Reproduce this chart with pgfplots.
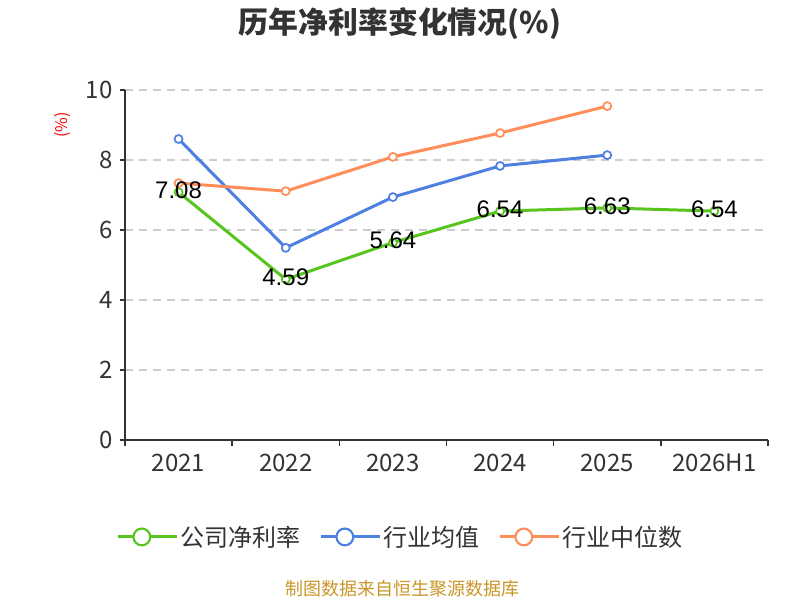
\documentclass[border=0pt]{standalone}
\usepackage{pgfplots}
\pgfplotsset{compat=1.18}
\usepackage{fontspec}
\setmainfont{Noto Sans CJK SC}
\newfontfamily\arial{Liberation Sans}
\definecolor{cgreen}{RGB}{88,196,30}
\definecolor{cblue}{RGB}{78,128,226}
\definecolor{corange}{RGB}{255,142,90}
\definecolor{txt}{RGB}{51,51,51}
\definecolor{gridc}{RGB}{204,204,204}
\definecolor{foot}{RGB}{200,150,40}
\begin{document}
\begin{tikzpicture}
\useasboundingbox (0,0) rectangle (600pt,450pt);
\begin{axis}[
  at={(93.75pt,120pt)}, anchor=south west,
  scale only axis, width=482.25pt, height=262.5pt,
  xmin=-0.5, xmax=5.5, ymin=0, ymax=10,
  axis x line*=bottom, axis y line*=left,
  axis line style={draw=txt, line width=1.1pt},
  xtick={0,...,5},
  xticklabels={2021,2022,2023,2024,2025,2026H1},
  minor xtick={-0.5,0.5,...,5.5},
  major x tick style={draw=none},
  minor x tick style={draw=txt, line width=1.1pt},
  y tick style={draw=txt, line width=1.1pt},
  ytick={0,2,...,10},
  tick align=outside,
  major tick length=3.75pt, minor tick length=4.5pt,
  ymajorgrids,
  y grid style={draw=gridc, line width=1pt, dash pattern=on 6pt off 4.5pt},
  tick label style={font=\fontsize{18pt}{20pt}\selectfont, text=txt},
  /pgf/number format/assume math mode=true,
  xticklabel style={yshift=-3pt},
  yticklabel style={xshift=-2pt},
  clip=false,
  legend columns=3,
  legend style={at={(0.429,-0.277)}, anchor=center, draw=none, fill=none,
    font=\fontsize{18pt}{20pt}\selectfont, text=txt,
    /tikz/every even column/.append style={column sep=12pt}},
  legend cell align=left,
  legend image code/.code={
    \path (0pt,0pt) -- (44pt,0pt);
    \draw[mark=none, line width=1.6pt] (0pt,0pt) -- (36pt,0pt);
    \draw[mark=none, fill=white, line width=1.6pt] (18pt,0pt) circle (6.3pt);
  },
  every axis plot/.append style={line width=2.25pt,
    mark=*, mark size=3pt, mark options={fill=white, line width=1.3pt}},
]
\addplot[cgreen] coordinates {(0,7.08) (1,4.59) (2,5.64) (3,6.54) (4,6.63) (5,6.54)};
\addlegendentry{公司净利率}
\addplot[cblue] coordinates {(0,8.60) (1,5.49) (2,6.94) (3,7.83) (4,8.14)};
\addlegendentry{行业均值}
\addplot[corange] coordinates {(0,7.34) (1,7.11) (2,8.09) (3,8.77) (4,9.54)};
\addlegendentry{行业中位数}
\addplot[draw=none, mark=none, forget plot,
  point meta=explicit symbolic,
  nodes near coords,
  every node near coord/.style={anchor=center, yshift=1.5pt, text=black,
    font=\arial\fontsize{18pt}{20pt}\selectfont}]
  coordinates {(0,7.08)[7.08] (1,4.59)[4.59] (2,5.64)[5.64] (3,6.54)[6.54] (4,6.63)[6.63] (5,6.54)[6.54]};
\end{axis}
\node[font=\bfseries\fontsize{22.4pt}{24pt}\selectfont, text=txt] at (300pt,432.5pt) {历年净利率变化情况(\%)};
\node[font=\fontsize{12pt}{14pt}\selectfont, text=red, rotate=90] at (47.25pt,356.25pt) {(\%)};
\node[font=\fontsize{13.5pt}{15pt}\selectfont, text=foot] at (302pt,8.5pt) {制图数据来自恒生聚源数据库};
\end{tikzpicture}
\end{document}
